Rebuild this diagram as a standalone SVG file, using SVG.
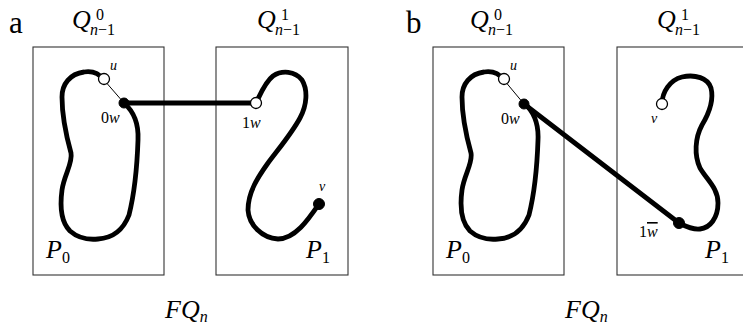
<svg xmlns="http://www.w3.org/2000/svg" width="743" height="328" viewBox="0 0 743 328">
<style>
  .box{fill:none;stroke:#333;stroke-width:1.1}
  .path{fill:none;stroke:#000;stroke-width:4.8;stroke-linecap:round;stroke-linejoin:round}
  .edge{fill:none;stroke:#000;stroke-width:4.8;stroke-linecap:round}
  .thin{fill:none;stroke:#000;stroke-width:1}
  .open{fill:#fff;stroke:#000;stroke-width:1.3}
  .full{fill:#000;stroke:#000;stroke-width:1}
  text{font-family:Liberation Serif,Times New Roman,DejaVu Serif,serif;fill:#000}
  .it{font-style:italic}
  .up{font-style:normal}
  .big{font-size:26px}
  .lbl{font-size:31px}
  .sm{font-size:16px}
  .xs{font-size:14px}
</style>
<!-- Panel a -->
<g id="panel-a">
  <text x="9" y="33" class="lbl">a</text>
  <g id="a-Q0">
    <rect class="box" x="33" y="47" width="131" height="228"/>
    <text x="72" y="28" class="big it">Q</text>
    <text x="96" y="20" class="sm">0</text>
    <text x="90" y="35" class="sm"><tspan class="it">n</tspan>−1</text>
    <text x="46" y="258" class="big it">P<tspan class="sm up" dy="5">0</tspan></text>
  </g>
  <g id="a-Q1">
    <rect class="box" x="216" y="47" width="132" height="228"/>
    <text x="257" y="28" class="big it">Q</text>
    <text x="281" y="20" class="sm">1</text>
    <text x="275" y="35" class="sm"><tspan class="it">n</tspan>−1</text>
    <text x="306" y="258" class="big it">P<tspan class="sm up" dy="5">1</tspan></text>
  </g>
  <g id="a-P0">
    <path class="path" d="M104,80 C98,72 90,71 84,72 C70,74 62,84 62,97 C62,115 66,135 71,153 C73,163 64,175 62,190 C60,205 61,222 70,231 C78,238 88,240 98,239 C115,238 124,228 129,215 C134,195 137,170 138,140 C139,120 132,110 124,103"/>
  </g>
  <g id="a-P1">
    <path class="path" d="M256,103 C260,95 265,82 273,76 C282,70 295,71 302,80 C308,90 307,105 300,118 C292,133 280,147 268,163 C258,177 248,192 248,210 C249,225 262,238 278,239 C295,239 308,220 319,204"/>
  </g>
  <g id="a-connectors">
    <line class="thin" x1="104" y1="80" x2="124" y2="103"/>
    <line class="edge" x1="124" y1="103" x2="256" y2="103"/>
  </g>
  <g id="a-u"><circle class="open" cx="104" cy="79" r="5.5"/><text x="110" y="70" class="xs it">u</text></g>
  <g id="a-0w"><circle class="full" cx="124" cy="103" r="5"/><text x="101" y="123" class="sm">0<tspan class="it">w</tspan></text></g>
  <g id="a-1w"><circle class="open" cx="256" cy="103" r="5.5"/><text x="242" y="128" class="sm">1<tspan class="it">w</tspan></text></g>
  <g id="a-v"><circle class="full" cx="319" cy="204" r="5.5"/><text x="319" y="191" class="xs it">v</text></g>
  <text x="165" y="318" class="big it">FQ<tspan class="sm" dy="4">n</tspan></text>
</g>

<!-- Panel b -->
<g id="panel-b">
  <text x="406" y="33" class="lbl">b</text>
  <g id="b-Q0">
    <rect class="box" x="433" y="47" width="131" height="228"/>
    <text x="470" y="28" class="big it">Q</text>
    <text x="494" y="20" class="sm">0</text>
    <text x="488" y="35" class="sm"><tspan class="it">n</tspan>−1</text>
    <text x="446" y="258" class="big it">P<tspan class="sm up" dy="5">0</tspan></text>
  </g>
  <g id="b-Q1">
    <rect class="box" x="617" y="47" width="140" height="228"/>
    <text x="657" y="28" class="big it">Q</text>
    <text x="681" y="20" class="sm">1</text>
    <text x="675" y="35" class="sm"><tspan class="it">n</tspan>−1</text>
    <text x="705" y="258" class="big it">P<tspan class="sm up" dy="5">1</tspan></text>
  </g>
  <g id="b-P0">
    <path class="path" d="M504,80 C498,72 490,71 484,72 C470,74 462,84 462,97 C462,115 466,135 471,153 C473,163 464,175 462,190 C460,205 461,222 470,231 C478,238 488,240 498,239 C515,238 524,228 529,215 C534,195 537,170 538,140 C539,120 532,110 524,103"/>
  </g>
  <g id="b-P1">
    <path class="path" d="M662,104 C662,92 670,80 682,77 C695,74 708,78 711,88 C714,100 708,115 702,125 C695,138 694,155 700,168 C707,180 718,188 718,203 C718,218 710,228 700,229 C692,230 685,226 679,223"/>
  </g>
  <g id="b-connectors">
    <line class="thin" x1="504" y1="80" x2="524" y2="104"/>
    <line class="edge" x1="524" y1="104" x2="679" y2="223"/>
  </g>
  <g id="b-u"><circle class="open" cx="504" cy="79" r="5.5"/><text x="510" y="70" class="xs it">u</text></g>
  <g id="b-0w"><circle class="full" cx="524" cy="104" r="5"/><text x="501" y="124" class="sm">0<tspan class="it">w</tspan></text></g>
  <g id="b-v"><circle class="open" cx="662" cy="104" r="5.5"/><text x="651" y="123" class="xs it">v</text></g>
  <g id="b-1w"><circle class="full" cx="679" cy="223" r="5.5"/><text x="639" y="237" class="sm">1<tspan class="it" text-decoration="overline">w</tspan></text></g>
  <text x="565" y="318" class="big it">FQ<tspan class="sm" dy="4">n</tspan></text>
</g>
</svg>
